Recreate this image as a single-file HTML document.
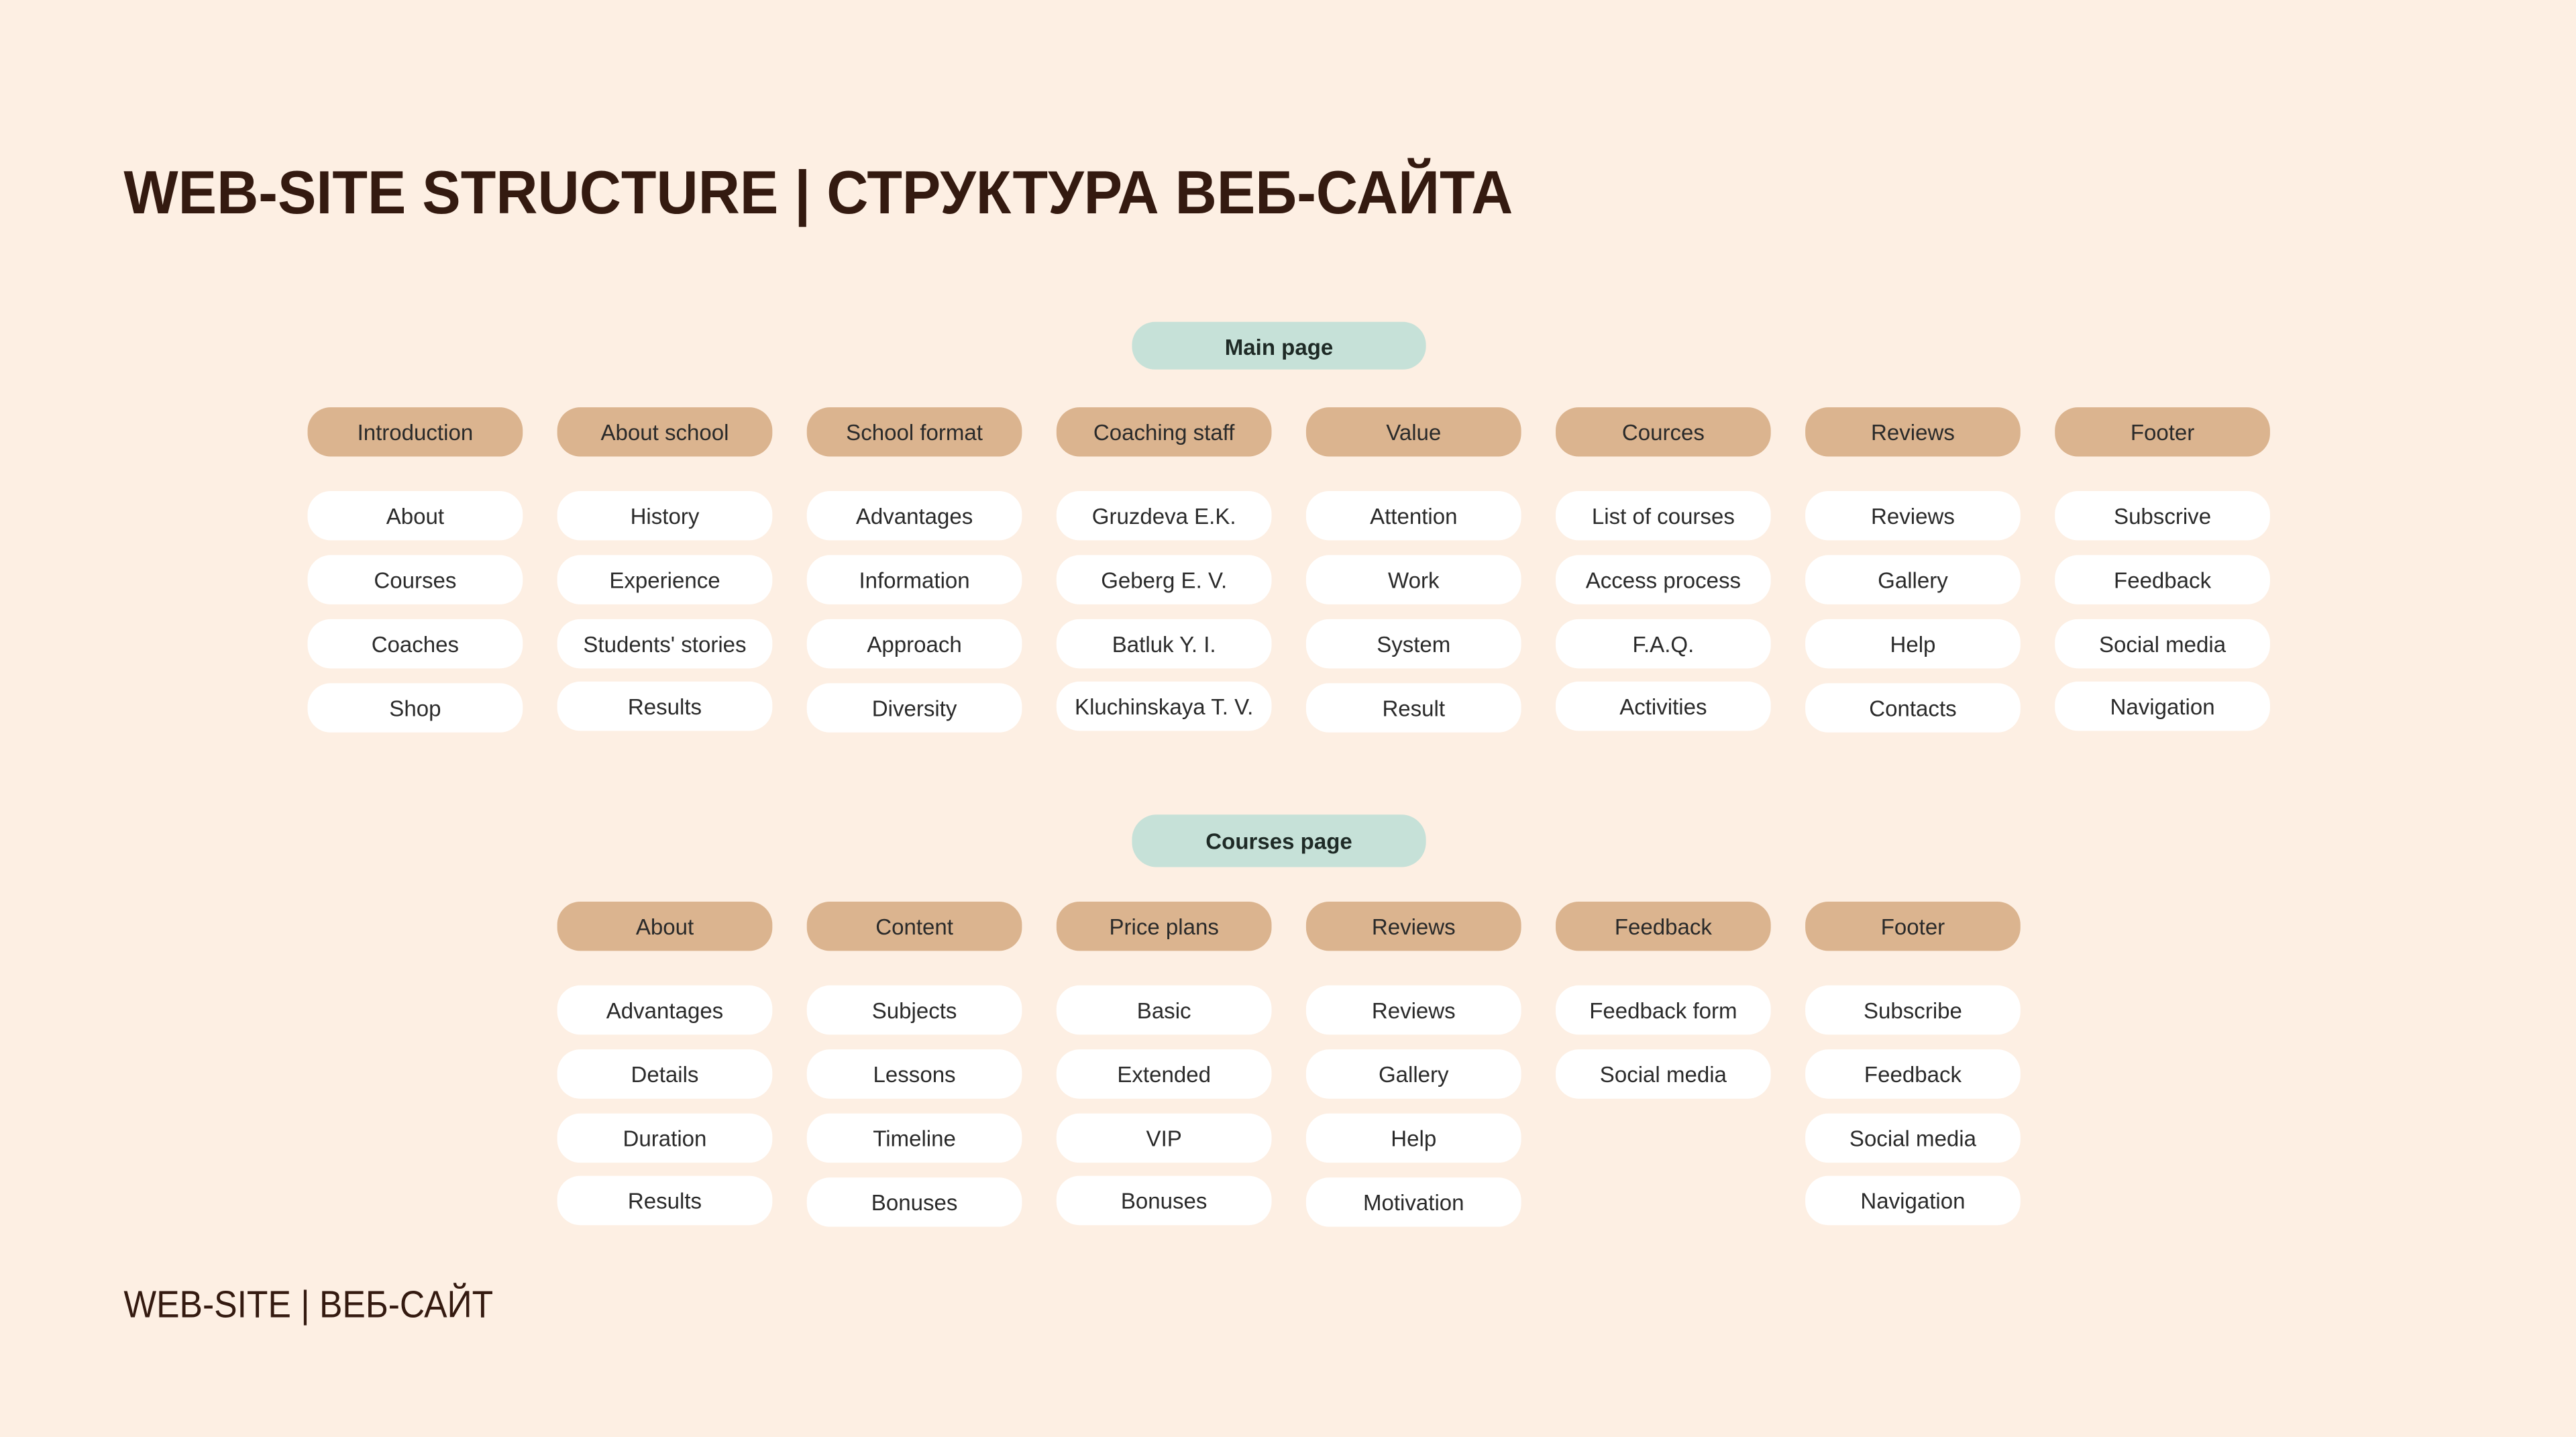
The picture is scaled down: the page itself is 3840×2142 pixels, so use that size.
<!DOCTYPE html>
<html><head><meta charset="utf-8"><style>
html,body{margin:0;padding:0;background:#fdefe3;}
svg{display:block}
text{font-family:"Liberation Sans","DejaVu Sans",sans-serif;}
</style></head><body>
<svg width="3840" height="2142" viewBox="0 0 1568 875" xmlns="http://www.w3.org/2000/svg">
<rect width="1568" height="875" fill="#fdefe3"/>
<text x="75" y="130" font-size="37" font-weight="bold" fill="#341a10" textLength="846" lengthAdjust="spacingAndGlyphs">WEB-SITE STRUCTURE | СТРУКТУРА ВЕБ-САЙТА</text>
<text x="75" y="802" font-size="23" fill="#341a10" textLength="225" lengthAdjust="spacingAndGlyphs">WEB-SITE | ВЕБ-САЙТ</text>

<g font-size="13.5" text-anchor="middle">
<rect x="689" y="196" width="179" height="29" rx="14" fill="#c6e1d8"/>
<text x="778.5" y="216" font-weight="bold" fill="#1e2a26">Main page</text>
<rect x="689" y="496" width="179" height="32" rx="15" fill="#c6e1d8"/>
<text x="778.5" y="517" font-weight="bold" fill="#1e2a26">Courses page</text>
</g>

<g fill="#dbb48f">
<rect x="187" y="248" width="131" height="30" rx="14"/>
<rect x="339" y="248" width="131" height="30" rx="14"/>
<rect x="491" y="248" width="131" height="30" rx="14"/>
<rect x="643" y="248" width="131" height="30" rx="14"/>
<rect x="795" y="248" width="131" height="30" rx="14"/>
<rect x="947" y="248" width="131" height="30" rx="14"/>
<rect x="1099" y="248" width="131" height="30" rx="14"/>
<rect x="1251" y="248" width="131" height="30" rx="14"/>
<rect x="339" y="549" width="131" height="30" rx="14"/>
<rect x="491" y="549" width="131" height="30" rx="14"/>
<rect x="643" y="549" width="131" height="30" rx="14"/>
<rect x="795" y="549" width="131" height="30" rx="14"/>
<rect x="947" y="549" width="131" height="30" rx="14"/>
<rect x="1099" y="549" width="131" height="30" rx="14"/>
</g>

<g fill="#ffffff">
<rect x="187" y="299" width="131" height="30" rx="14"/><rect x="187" y="338" width="131" height="30" rx="14"/><rect x="187" y="377" width="131" height="30" rx="14"/><rect x="187" y="416" width="131" height="30" rx="14"/>
<rect x="339" y="299" width="131" height="30" rx="14"/><rect x="339" y="338" width="131" height="30" rx="14"/><rect x="339" y="377" width="131" height="30" rx="14"/><rect x="339" y="415" width="131" height="30" rx="14"/>
<rect x="491" y="299" width="131" height="30" rx="14"/><rect x="491" y="338" width="131" height="30" rx="14"/><rect x="491" y="377" width="131" height="30" rx="14"/><rect x="491" y="416" width="131" height="30" rx="14"/>
<rect x="643" y="299" width="131" height="30" rx="14"/><rect x="643" y="338" width="131" height="30" rx="14"/><rect x="643" y="377" width="131" height="30" rx="14"/><rect x="643" y="415" width="131" height="30" rx="14"/>
<rect x="795" y="299" width="131" height="30" rx="14"/><rect x="795" y="338" width="131" height="30" rx="14"/><rect x="795" y="377" width="131" height="30" rx="14"/><rect x="795" y="416" width="131" height="30" rx="14"/>
<rect x="947" y="299" width="131" height="30" rx="14"/><rect x="947" y="338" width="131" height="30" rx="14"/><rect x="947" y="377" width="131" height="30" rx="14"/><rect x="947" y="415" width="131" height="30" rx="14"/>
<rect x="1099" y="299" width="131" height="30" rx="14"/><rect x="1099" y="338" width="131" height="30" rx="14"/><rect x="1099" y="377" width="131" height="30" rx="14"/><rect x="1099" y="416" width="131" height="30" rx="14"/>
<rect x="1251" y="299" width="131" height="30" rx="14"/><rect x="1251" y="338" width="131" height="30" rx="14"/><rect x="1251" y="377" width="131" height="30" rx="14"/><rect x="1251" y="415" width="131" height="30" rx="14"/>

<rect x="339" y="600" width="131" height="30" rx="14"/><rect x="339" y="639" width="131" height="30" rx="14"/><rect x="339" y="678" width="131" height="30" rx="14"/><rect x="339" y="716" width="131" height="30" rx="14"/>
<rect x="491" y="600" width="131" height="30" rx="14"/><rect x="491" y="639" width="131" height="30" rx="14"/><rect x="491" y="678" width="131" height="30" rx="14"/><rect x="491" y="717" width="131" height="30" rx="14"/>
<rect x="643" y="600" width="131" height="30" rx="14"/><rect x="643" y="639" width="131" height="30" rx="14"/><rect x="643" y="678" width="131" height="30" rx="14"/><rect x="643" y="716" width="131" height="30" rx="14"/>
<rect x="795" y="600" width="131" height="30" rx="14"/><rect x="795" y="639" width="131" height="30" rx="14"/><rect x="795" y="678" width="131" height="30" rx="14"/><rect x="795" y="717" width="131" height="30" rx="14"/>
<rect x="947" y="600" width="131" height="30" rx="14"/><rect x="947" y="639" width="131" height="30" rx="14"/>
<rect x="1099" y="600" width="131" height="30" rx="14"/><rect x="1099" y="639" width="131" height="30" rx="14"/><rect x="1099" y="678" width="131" height="30" rx="14"/><rect x="1099" y="716" width="131" height="30" rx="14"/>
</g>

<g font-size="13.5" text-anchor="middle" fill="#2a2a2a">
<text x="252.5" y="268">Introduction</text><text x="404.5" y="268">About school</text><text x="556.5" y="268">School format</text><text x="708.5" y="268">Coaching staff</text><text x="860.5" y="268">Value</text><text x="1012.5" y="268">Cources</text><text x="1164.5" y="268">Reviews</text><text x="1316.5" y="268">Footer</text>

<text x="252.5" y="319">About</text><text x="252.5" y="358">Courses</text><text x="252.5" y="397">Coaches</text><text x="252.5" y="436">Shop</text>
<text x="404.5" y="319">History</text><text x="404.5" y="358">Experience</text><text x="404.5" y="397">Students' stories</text><text x="404.5" y="435">Results</text>
<text x="556.5" y="319">Advantages</text><text x="556.5" y="358">Information</text><text x="556.5" y="397">Approach</text><text x="556.5" y="436">Diversity</text>
<text x="708.5" y="319">Gruzdeva E.K.</text><text x="708.5" y="358">Geberg E. V.</text><text x="708.5" y="397">Batluk Y. I.</text><text x="708.5" y="435">Kluchinskaya T. V.</text>
<text x="860.5" y="319">Attention</text><text x="860.5" y="358">Work</text><text x="860.5" y="397">System</text><text x="860.5" y="436">Result</text>
<text x="1012.5" y="319">List of courses</text><text x="1012.5" y="358">Access process</text><text x="1012.5" y="397">F.A.Q.</text><text x="1012.5" y="435">Activities</text>
<text x="1164.5" y="319">Reviews</text><text x="1164.5" y="358">Gallery</text><text x="1164.5" y="397">Help</text><text x="1164.5" y="436">Contacts</text>
<text x="1316.5" y="319">Subscrive</text><text x="1316.5" y="358">Feedback</text><text x="1316.5" y="397">Social media</text><text x="1316.5" y="435">Navigation</text>

<text x="404.5" y="569">About</text><text x="556.5" y="569">Content</text><text x="708.5" y="569">Price plans</text><text x="860.5" y="569">Reviews</text><text x="1012.5" y="569">Feedback</text><text x="1164.5" y="569">Footer</text>

<text x="404.5" y="620">Advantages</text><text x="404.5" y="659">Details</text><text x="404.5" y="698">Duration</text><text x="404.5" y="736">Results</text>
<text x="556.5" y="620">Subjects</text><text x="556.5" y="659">Lessons</text><text x="556.5" y="698">Timeline</text><text x="556.5" y="737">Bonuses</text>
<text x="708.5" y="620">Basic</text><text x="708.5" y="659">Extended</text><text x="708.5" y="698">VIP</text><text x="708.5" y="736">Bonuses</text>
<text x="860.5" y="620">Reviews</text><text x="860.5" y="659">Gallery</text><text x="860.5" y="698">Help</text><text x="860.5" y="737">Motivation</text>
<text x="1012.5" y="620">Feedback form</text><text x="1012.5" y="659">Social media</text>
<text x="1164.5" y="620">Subscribe</text><text x="1164.5" y="659">Feedback</text><text x="1164.5" y="698">Social media</text><text x="1164.5" y="736">Navigation</text>
</g>
</svg>
</body></html>
